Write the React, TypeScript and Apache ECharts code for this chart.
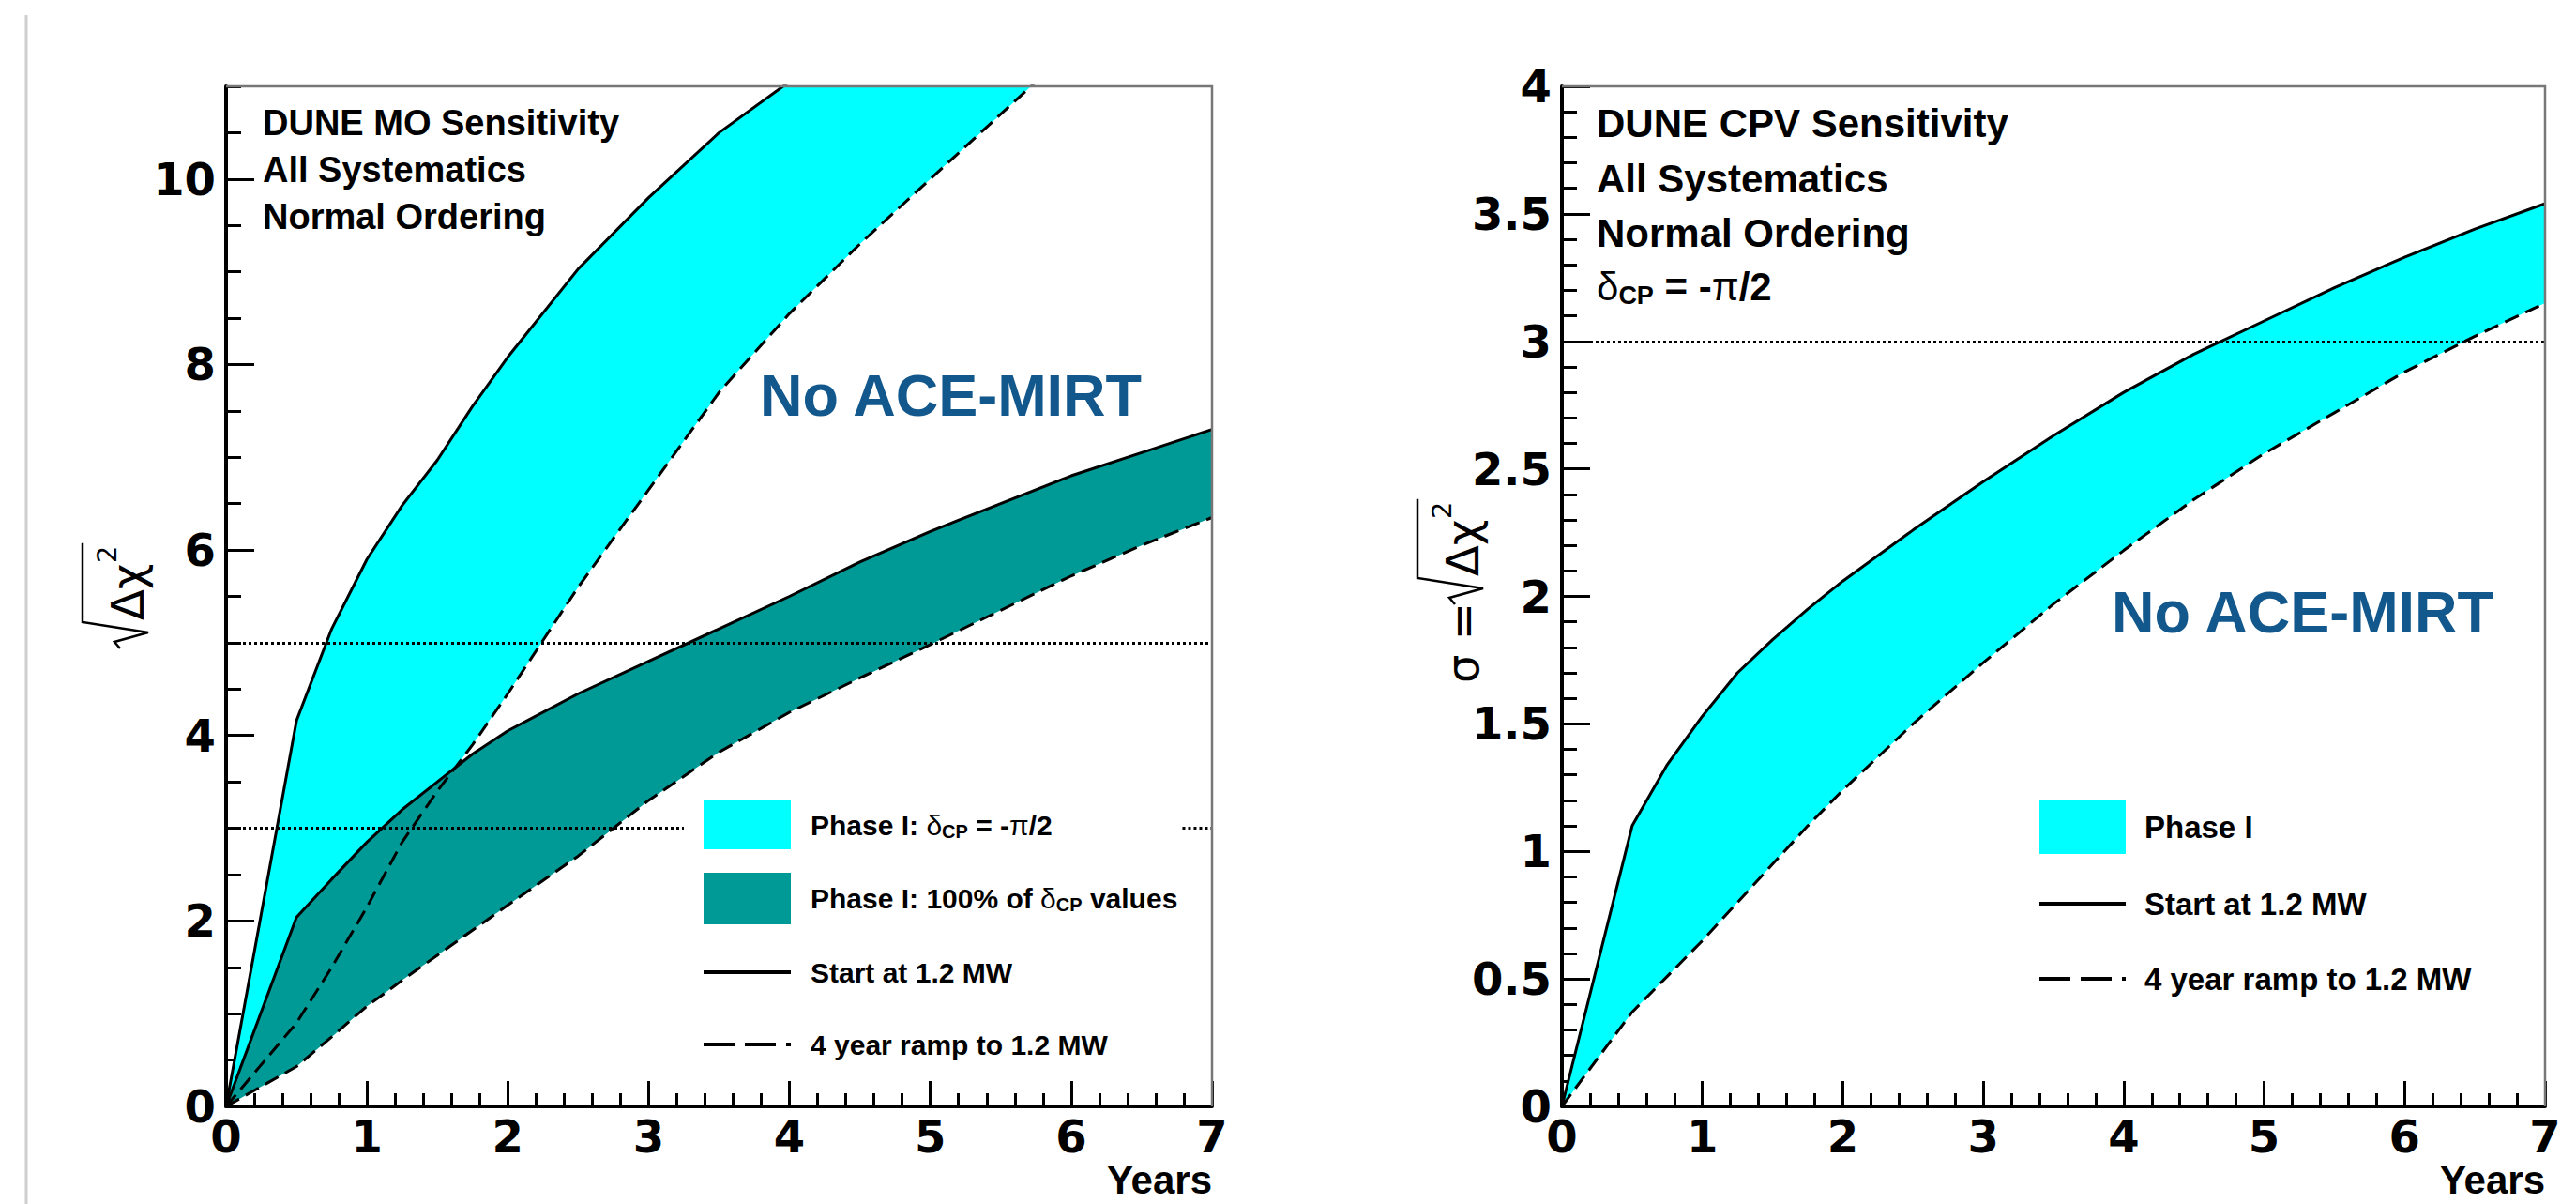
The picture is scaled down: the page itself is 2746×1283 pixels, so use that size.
import React, { useEffect, useRef } from 'react';
import * as echarts from 'echarts';

// ---------- data ----------
const years = [0, 0.5, 0.75, 1, 1.25, 1.5, 1.75, 2, 2.5, 3, 3.5, 4, 4.5, 5, 5.5, 6, 6.5, 7];
// MO sensitivity, Phase I, delta_CP = -pi/2 (values above 11 lie off the frame)
const moCyanSolid = [0, 4.16, 5.15, 5.9, 6.48, 6.97, 7.55, 8.08, 9.03, 9.8, 10.5, 11.05, 11.7, 12.3, 12.8, 13.3, 13.8, 14.2];
const moCyanDashed = [0, 0.9, 1.5, 2.15, 2.85, 3.4, 3.9, 4.45, 5.6, 6.65, 7.7, 8.55, 9.3, 10.0, 10.7, 11.4, 12.0, 12.6];
// MO sensitivity, Phase I, 100% of delta_CP
const moTealSolid = [0, 2.04, 2.45, 2.85, 3.2, 3.5, 3.8, 4.05, 4.45, 4.8, 5.15, 5.5, 5.87, 6.2, 6.5, 6.8, 7.05, 7.3];
const moTealDashed = [0, 0.43, 0.75, 1.08, 1.36, 1.63, 1.9, 2.17, 2.7, 3.3, 3.82, 4.25, 4.62, 4.98, 5.35, 5.72, 6.05, 6.35];
// CPV sensitivity, Phase I
const cpvSolid = [0, 1.1, 1.34, 1.53, 1.7, 1.83, 1.95, 2.06, 2.26, 2.45, 2.63, 2.8, 2.95, 3.08, 3.21, 3.33, 3.44, 3.54];
const cpvDashed = [0, 0.37, 0.51, 0.65, 0.8, 0.95, 1.1, 1.24, 1.5, 1.74, 1.97, 2.18, 2.38, 2.56, 2.72, 2.88, 3.02, 3.15];

const xTicks = [0, 1, 2, 3, 4, 5, 6, 7];
const moYTicks = [0, 2, 4, 6, 8, 10];
const moThresholds = [5, 3];
const cpvThresholds = [3];

// ---------- style ----------
const FONT = "'Liberation Sans', Arial, Helvetica, sans-serif";
const TICKFONT = "'DejaVu Sans', 'Liberation Sans', sans-serif";
const CYAN = '#00ffff';
const TEAL = '#009a96';
const BLUE = '#12588d';
const G1 = { left: 241, top: 92, width: 1051, height: 1087 };
const G2 = { left: 1665, top: 92, width: 1048, height: 1087 };

const pairs = (ys: number[]) => years.map((x, i) => [x, ys[i]]);

function band(lower: number[], upper: number[], color: string, xi: number, yi: number, z: number) {
  return {
    type: 'custom', xAxisIndex: xi, yAxisIndex: yi, z, silent: true, clip: true,
    data: [[0, 0]],
    renderItem: (_params: any, api: any) => {
      const pts: number[][] = [];
      for (let i = 0; i < years.length; i++) pts.push(api.coord([years[i], upper[i]]));
      for (let i = years.length - 1; i >= 0; i--) pts.push(api.coord([years[i], lower[i]]));
      return { type: 'polygon', shape: { points: pts }, style: { fill: color, stroke: null } };
    },
  };
}

function curve(ys: number[], dashed: boolean, xi: number, yi: number, extra: any = {}) {
  return {
    type: 'line', xAxisIndex: xi, yAxisIndex: yi, data: pairs(ys), symbol: 'none', silent: true, z: 3,
    lineStyle: { color: '#000', width: 3, type: dashed ? [16, 8] : 'solid' },
    ...extra,
  };
}

const dotted = { color: '#000', width: 3, type: [3, 3] };

const tickLabel = { color: '#000', fontFamily: TICKFONT, fontWeight: 'bold', fontSize: 48 };

const xAxisCfg = (gi: number) => ({
  type: 'value', gridIndex: gi, min: 0, max: 7, interval: 1,
  axisLine: { show: true, onZero: false, lineStyle: { color: '#000', width: 4 } },
  axisTick: { show: true, inside: true, length: 27, lineStyle: { color: '#000', width: 3 } },
  minorTick: { show: true, splitNumber: 5, length: 14, lineStyle: { color: '#000', width: 3 } },
  splitLine: { show: false }, minorSplitLine: { show: false },
  axisLabel: { ...tickLabel, margin: 14, lineHeight: 36, customValues: xTicks },
});

function sqrtTitle(gx: number, gy: number, prefix: string, fs: number) {
  const pre = prefix ? fs * 1.75 : 0;
  const wDX = fs * 1.25;
  const children: any[] = [];
  if (prefix) {
    children.push({ type: 'text', x: 0, y: 10, style: { text: prefix, fontSize: fs, fontFamily: TICKFONT, fill: '#000', verticalAlign: 'bottom' } });
  }
  const r0 = pre;
  children.push({ type: 'polyline', shape: { points: [[r0, -22], [r0 + 7, -28], [r0 + 17, 8], [r0 + 28, -62], [r0 + 32 + wDX + fs * 0.42, -62]] },
    style: { stroke: '#000', lineWidth: 2.5, fill: null } });
  children.push({ type: 'text', x: r0 + 30, y: 10, style: { text: 'Δχ', fontSize: fs, fontFamily: TICKFONT, fill: '#000', verticalAlign: 'bottom' } });
  children.push({ type: 'text', x: r0 + 31 + wDX, y: -22, style: { text: '2', fontSize: fs * 0.6, fontFamily: TICKFONT, fill: '#000', verticalAlign: 'bottom' } });
  return { type: 'group', x: gx, y: gy, rotation: Math.PI / 2, children };
}

function txt(x: number, y: number, text: string, fs: number, extra: any = {}) {
  return { type: 'text', x, y, z: 50, style: { text, fontSize: fs, fontFamily: FONT, fontWeight: 'bold', fill: '#000', verticalAlign: 'middle', ...extra } };
}

function subRich(fs: number) {
  return {
    t: { fontSize: fs, fontFamily: FONT, fontWeight: 'bold', fill: '#000' },
    g: { fontSize: fs, fontFamily: FONT, fontWeight: 'normal', fill: '#000' },
    s: { fontSize: Math.round(fs * 0.65), fontFamily: FONT, fontWeight: 'bold', fill: '#000', padding: [Math.round(fs * 0.45), 0, 0, 0] },
  };
}

function legendLine(x1: number, x2: number, y: number, dashed: boolean) {
  return { type: 'line', z: 50, shape: { x1, y1: y, x2, y2: y }, style: { stroke: '#000', lineWidth: 4, lineDash: dashed ? [33, 11] : null } };
}

const option: any = {
  animation: false,
  backgroundColor: '#fff',
  grid: [
    { ...G1, show: false },
    { ...G2, show: false },
  ],
  xAxis: [xAxisCfg(0), xAxisCfg(1)],
  yAxis: [
    {
      type: 'value', gridIndex: 0, position: 'left', min: 0, max: 11,
      axisLine: { show: true, onZero: false, lineStyle: { color: '#000', width: 4 } },
      axisTick: { show: true, inside: true, length: 30, lineStyle: { color: '#000', width: 3 }, customValues: moYTicks },
      axisLabel: { ...tickLabel, margin: 11, customValues: moYTicks },
      splitLine: { show: false },
    },
    {
      type: 'value', gridIndex: 0, position: 'left', offset: 0, min: 0, max: 11, interval: 0.5,
      axisLine: { show: false },
      axisTick: { show: true, inside: true, length: 16, lineStyle: { color: '#000', width: 3 } },
      axisLabel: { show: false }, splitLine: { show: false },
    },
    {
      type: 'value', gridIndex: 1, position: 'left', min: 0, max: 4, interval: 0.5,
      axisLine: { show: true, onZero: false, lineStyle: { color: '#000', width: 4 } },
      axisTick: { show: true, inside: true, length: 30, lineStyle: { color: '#000', width: 3 } },
      minorTick: { show: true, splitNumber: 5, length: 16, lineStyle: { color: '#000', width: 3 } },
      axisLabel: { ...tickLabel, margin: 11 },
      splitLine: { show: false }, minorSplitLine: { show: false },
    },
  ],
  series: [
    band(moCyanDashed, moCyanSolid, CYAN, 0, 0, 1),
    band(moTealDashed, moTealSolid, TEAL, 0, 0, 2),
    curve(moCyanSolid, false, 0, 0),
    curve(moCyanDashed, true, 0, 0),
    curve(moTealDashed, true, 0, 0),
    curve(moTealSolid, false, 0, 0, {
      markLine: {
        silent: true, symbol: ['none', 'none'], label: { show: false }, lineStyle: dotted,
        data: [
          [{ coord: [0, moThresholds[0]] }, { coord: [7, moThresholds[0]] }],
          [{ coord: [0, moThresholds[1]] }, { coord: [3.25, moThresholds[1]] }],
          [{ coord: [6.79, moThresholds[1]] }, { coord: [7, moThresholds[1]] }],
        ],
      },
    }),
    band(cpvDashed, cpvSolid, CYAN, 1, 2, 1),
    curve(cpvDashed, true, 1, 2),
    curve(cpvSolid, false, 1, 2, {
      markLine: {
        silent: true, symbol: ['none', 'none'], label: { show: false }, lineStyle: dotted,
        data: [[{ coord: [0, cpvThresholds[0]] }, { coord: [7, cpvThresholds[0]] }]],
      },
    }),
  ],
  graphic: [
    // page edge line
    { type: 'line', shape: { x1: 28, y1: 16, x2: 28, y2: 1283 }, style: { stroke: '#cfcfcf', lineWidth: 3 } },
    // frames (top + right)
    { type: 'polyline', z: 40, shape: { points: [[G1.left, G1.top], [G1.left + G1.width, G1.top], [G1.left + G1.width, G1.top + G1.height]] }, style: { stroke: '#777', lineWidth: 2.5, fill: null } },
    { type: 'polyline', z: 40, shape: { points: [[G2.left, G2.top], [G2.left + G2.width, G2.top], [G2.left + G2.width, G2.top + G2.height]] }, style: { stroke: '#777', lineWidth: 2.5, fill: null } },
    // axis titles
    sqrtTitle(150, 691, '', 48),
    sqrtTitle(1573, 728, 'σ = ', 48),
    txt(G1.left + G1.width, 1257, 'Years', 42, { align: 'right', lineHeight: 38 }),
    txt(G2.left + G2.width, 1257, 'Years', 42, { align: 'right', lineHeight: 38 }),
    // left panel texts
    txt(280, 131, 'DUNE MO Sensitivity', 38),
    txt(280, 181, 'All Systematics', 38),
    txt(280, 231, 'Normal Ordering', 38),
    txt(810, 421, 'No ACE-MIRT', 63, { fill: BLUE }),
    // right panel texts
    txt(1702, 131, 'DUNE CPV Sensitivity', 42),
    txt(1702, 190, 'All Systematics', 42),
    txt(1702, 248, 'Normal Ordering', 42),
    txt(1702, 305, '{g|δ}{s|CP}{t| = -}{g|π}{t|/2}', 42, { rich: subRich(42) }),
    txt(2251, 652, 'No ACE-MIRT', 63, { fill: BLUE }),
    // left legend
    { type: 'rect', z: 50, shape: { x: 750, y: 853, width: 93, height: 52 }, style: { fill: CYAN } },
    { type: 'rect', z: 50, shape: { x: 750, y: 930, width: 93, height: 55 }, style: { fill: TEAL } },
    legendLine(750, 843, 1036, false),
    legendLine(750, 843, 1113, true),
    txt(864, 879, '{t|Phase I: }{g|δ}{s|CP}{t| = -}{g|π}{t|/2}', 30, { rich: subRich(30) }),
    txt(864, 957, '{t|Phase I: 100% of }{g|δ}{s|CP}{t| values}', 30, { rich: subRich(30) }),
    txt(864, 1036, 'Start at 1.2 MW', 30),
    txt(864, 1113, '4 year ramp to 1.2 MW', 30),
    // right legend
    { type: 'rect', z: 50, shape: { x: 2174, y: 853, width: 92, height: 57 }, style: { fill: CYAN } },
    legendLine(2174, 2266, 963, false),
    legendLine(2174, 2266, 1043, true),
    txt(2286, 881, 'Phase I', 33),
    txt(2286, 963, 'Start at 1.2 MW', 33),
    txt(2286, 1043, '4 year ramp to 1.2 MW', 33),
  ],
};

export default function App() {
  const ref = useRef<HTMLDivElement>(null);
  useEffect(() => {
    document.body.style.margin = '0';
    const chart = echarts.init(ref.current as HTMLDivElement, null, { renderer: 'svg' });
    chart.setOption(option);
    return () => chart.dispose();
  }, []);
  return <div ref={ref} style={{ width: 2746, height: 1283, overflow: 'hidden' }} />;
}
